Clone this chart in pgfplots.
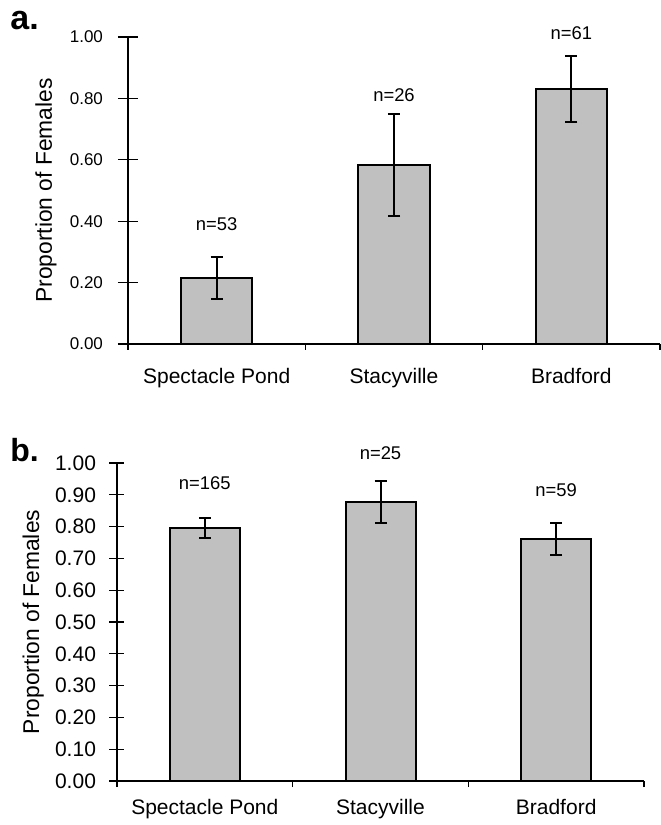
\documentclass[border=0pt]{standalone}
\usepackage{fontspec}
\setmainfont{Liberation Sans}
\usepackage{pgfplots}
\pgfplotsset{compat=1.18}
\definecolor{barfill}{RGB}{192,192,192}

\pgfplotsset{
  propbar/.style={
    scale only axis, axis lines*=left, clip=false,
    xmin=0.5, xmax=3.5, ymin=0, ymax=1,
    xtick={1,2,3},
    xticklabels={Spectacle Pond, Stacyville, Bradford},
    minor xtick={0.5,1.5,2.5,3.5},
    tick align=outside,
    minor tick length=3pt,
    x tick style={/pgfplots/major tick length=0pt, black, line width=0.6pt},
    xticklabel style={anchor=base},
    axis line style={black, line width=0.6pt},
    yticklabel style={/pgf/number format/fixed,
                      /pgf/number format/fixed zerofill,
                      /pgf/number format/precision=2,
                      /pgf/number format/assume math mode=true},
    ylabel={Proportion of Females},
    bar width=35.5pt,
  },
  errbar/.style={
    ybar, fill=barfill, draw=black, line width=1pt,
    error bars/.cd, y dir=both, y explicit,
    error bar style={line width=1pt, black},
    error mark options={black, line width=1pt, mark size=3pt, rotate=90},
  },
}

\begin{document}
\begin{tikzpicture}
\path[use as bounding box] (0,0) rectangle (330pt,412.5pt);

% panel a
\begin{axis}[propbar,
  at={(64pt,240.5pt)}, anchor=south west,
  width=266pt, height=153.5pt,
  ytick={0,0.2,0.4,0.6,0.8,1.0},
  major tick length=10pt,
  y tick style={black, line width=0.6pt, xshift=5pt},
  yticklabel style={font=\fontsize{8.5}{10}\selectfont, xshift=1pt},
  xticklabel style={font=\fontsize{10.5}{12}\selectfont, yshift=-10pt},
  ylabel style={at={(axis description cs:-0.154,0.5)}, anchor=center,
                font=\fontsize{11.4}{13}\selectfont},
]
\addplot[errbar] coordinates {
  (1,0.215) +- (0,0.070)
  (2,0.583) +- (0,0.167)
  (3,0.830) +- (0,0.107)
};
\node[font=\fontsize{9.2}{11}\selectfont] at (axis cs:1,0.39) {n=53};
\node[font=\fontsize{9.2}{11}\selectfont] at (axis cs:2,0.81) {n=26};
\node[font=\fontsize{9.2}{11}\selectfont] at (axis cs:3,1.013) {n=61};
\end{axis}

% panel b
\begin{axis}[propbar,
  at={(58.5pt,22pt)}, anchor=south west,
  width=263.5pt, height=159pt,
  ytick={0,0.1,0.2,0.3,0.4,0.5,0.6,0.7,0.8,0.9,1.0},
  major tick length=7.5pt,
  y tick style={black, line width=0.6pt, xshift=3.5pt},
  bar width=35pt,
  yticklabel style={font=\fontsize{10.5}{12}\selectfont, xshift=0.5pt},
  xticklabel style={font=\fontsize{10.5}{12}\selectfont, yshift=-9pt},
  ylabel style={at={(axis description cs:-0.159,0.5)}, anchor=center,
                font=\fontsize{11.4}{13}\selectfont},
]
\addplot[errbar] coordinates {
  (1,0.796) +- (0,0.032)
  (2,0.877) +- (0,0.065)
  (3,0.761) +- (0,0.050)
};
\node[font=\fontsize{9.2}{11}\selectfont] at (axis cs:1,0.937) {n=165};
\node[font=\fontsize{9.2}{11}\selectfont] at (axis cs:2,1.031) {n=25};
\node[font=\fontsize{9.2}{11}\selectfont] at (axis cs:3,0.915) {n=59};
\end{axis}

\node[anchor=base west, font=\bfseries\fontsize{17}{20}\selectfont,
      inner sep=0pt] at (5pt,397.5pt) {a.};
\node[anchor=base west, font=\bfseries\fontsize{16}{19}\selectfont,
      inner sep=0pt] at (5pt,181.5pt) {b.};
\end{tikzpicture}
\end{document}
